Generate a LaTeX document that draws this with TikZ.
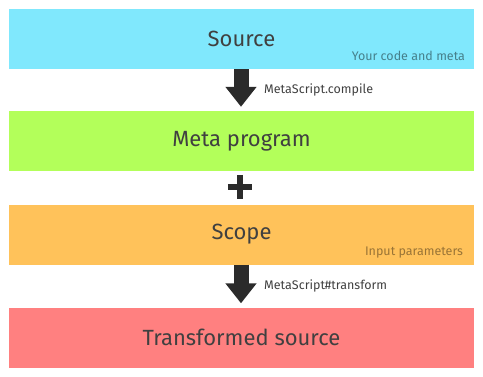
\documentclass[tikz,border=0pt]{standalone}
\usepackage{fontspec}
\setmainfont{Fira Sans}
\usepackage{xcolor}
\usetikzlibrary{arrows.meta,positioning}

\definecolor{srccyan}{HTML}{80E8FD}
\definecolor{metagreen}{HTML}{B3FF5A}
\definecolor{scopeorange}{HTML}{FFC25A}
\definecolor{outred}{HTML}{FF8080}
\definecolor{inkdark}{HTML}{2B2B2B}

\begin{document}
\begin{tikzpicture}[
    x=1pt, y=-1pt,
    stage/.style={
        rectangle,
        draw=none,
        minimum width=465pt,
        minimum height=60pt,
        inner sep=0pt,
        text=inkdark!90,
        font=\fontsize{22}{26}\selectfont
    },
    note/.style={
        anchor=base east,
        inner sep=0pt,
        font=\fontsize{12.5}{15}\selectfont
    },
    bigarrow/.style={
        -{Triangle[length=20pt,width=30pt]},
        line width=15pt,
        draw=inkdark,
        shorten >=4pt
    },
    steplabel/.style={
        anchor=west,
        xshift=23pt,
        inner sep=0pt,
        text=inkdark!90,
        font=\fontsize{12.5}{15}\selectfont
    }
]
\useasboundingbox (0,0) rectangle (483,376);

% =========================================================
% Stages
% =========================================================
\node[stage, fill=srccyan] (src) at (241.5,39) {Source};
\node[stage, fill=metagreen] (meta) at (241.5,141) {Meta program};
\node[stage, fill=scopeorange] (scope) at (241.5,234.5) {Scope};
\node[stage, fill=outred] (out) at (241.5,337.5) {Transformed source};

% Notes
\node[note, text=srccyan!55!black] (srcnote) at ([xshift=-9pt,yshift=9pt]src.south east) {Your code and meta};
\node[note, text=scopeorange!60!black] (scopenote) at ([xshift=-11pt,yshift=9pt]scope.south east) {Input parameters};

% =========================================================
% Steps
% =========================================================
\draw[bigarrow] ([xshift=-0.5pt]src.south) -- coordinate (c1) ([xshift=-0.5pt]meta.north);
\node[steplabel] (compile) at (c1) {MetaScript.compile};

% plus between program and scope
\node[minimum size=24pt, inner sep=0pt] (plus) at (240,187) {};
\draw[inkdark, line width=6pt] (plus.west) -- (plus.east);
\draw[inkdark, line width=6pt] (plus.north) -- (plus.south);

\draw[bigarrow] ([xshift=-0.5pt]scope.south) -- coordinate (c2) ([xshift=-0.5pt]out.north);
\node[steplabel] (transform) at (c2) {MetaScript\#transform};

\end{tikzpicture}
\end{document}
